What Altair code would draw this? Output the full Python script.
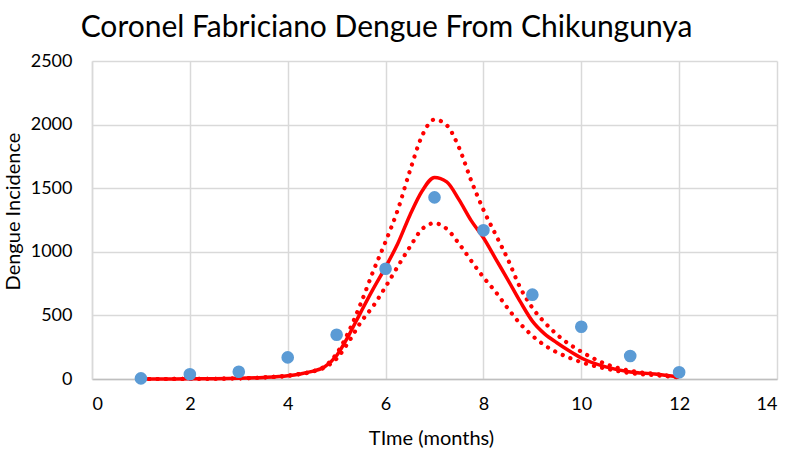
import altair as alt
import pandas as pd

# Observed dengue incidence (blue dots)
obs_month = [1, 2, 3, 4, 5, 6, 7, 8, 9, 10, 11, 12]
obs_cases = [5, 37, 57, 170, 348, 867, 1428, 1169, 663, 411, 181, 53]

# Model curves
t = [1, 1.5, 2, 2.5, 3, 3.5, 4, 4.25, 4.5, 4.75, 5, 5.25, 5.5, 5.75, 6, 6.25, 6.5,
     6.75, 7, 7.25, 7.5, 7.75, 8, 8.25, 8.5, 8.75, 9, 9.25, 9.5, 9.75, 10, 10.5, 11,
     11.5, 12]
model = [0, 0, 1, 2, 5, 12, 26, 40, 60, 95, 185, 345, 530, 710, 880, 1065, 1290,
         1480, 1585, 1550, 1410, 1245, 1110, 945, 780, 610, 455, 355, 285, 222, 165,
         95, 55, 40, 15]
upper = [0, 0, 1, 2, 5, 12, 26, 40, 60, 98, 200, 375, 600, 850, 1080, 1330, 1640,
         1915, 2040, 1995, 1820, 1560, 1330, 1135, 940, 720, 560, 445, 350, 275, 215,
         118, 65, 40, 15]
lower = [0, 0, 1, 2, 5, 12, 25, 38, 57, 90, 160, 295, 450, 575, 725, 885, 1040,
         1180, 1225, 1180, 1065, 930, 800, 685, 555, 435, 340, 265, 210, 168, 132,
         82, 46, 30, 12]

x_ticks = [0, 2, 4, 6, 8, 10, 12, 14]
y_ticks = [0, 500, 1000, 1500, 2000, 2500]

obs = pd.DataFrame({"t": obs_month, "v": obs_cases})
curves = pd.DataFrame({"t": t, "model": model, "upper": upper, "lower": lower})

FONT = "Lato"
RED = "#FF0000"

xenc = alt.X("t:Q",
             scale=alt.Scale(domain=[0, 14], nice=False, zero=False),
             axis=alt.Axis(values=x_ticks, title="TIme (months)", format="d",
                           titleX=339, titleY=59, titleBaseline="middle",
                           titleAlign="center", labelPadding=16))
base = alt.Chart(curves)

def yenc(field):
    return alt.Y(f"{field}:Q",
                 scale=alt.Scale(domain=[0, 2500], nice=False),
                 axis=alt.Axis(values=y_ticks, title="Dengue Incidence", format="d",
                               titleX=-79, titleY=150, titleBaseline="middle",
                               titleAlign="center", titleAngle=-90,
                               labelPadding=20))

solid = base.mark_line(color=RED, strokeWidth=3.5, interpolate="monotone").encode(
    x=xenc, y=yenc("model"))
up = base.mark_line(color=RED, strokeWidth=4.2, interpolate="monotone",
                    strokeDash=[0.1, 8.2], strokeCap="round").encode(
    x=xenc, y=yenc("upper"))
lo = base.mark_line(color=RED, strokeWidth=4.2, interpolate="monotone",
                    strokeDash=[0.1, 8.2], strokeCap="round").encode(
    x=xenc, y=yenc("lower"))
dots = alt.Chart(obs).mark_circle(color="#5B9BD5", size=160, opacity=1).encode(
    x=xenc, y=yenc("v"))

chart = alt.layer(solid, up, lo, dots).properties(
    width=685, height=318,
    title=alt.TitleParams("Coronel Fabriciano Dengue From Chikungunya",
                          anchor="middle", dx=-48, fontSize=30, font=FONT,
                          fontWeight="normal", color="#000000", offset=9),
    autosize=alt.AutoSizeParams(type="none"),
    padding={"left": 92, "top": 61, "right": 11, "bottom": 73},
).configure_view(stroke=None).configure_axis(
    labelFont=FONT, titleFont=FONT, labelFontSize=18, titleFontSize=20,
    titleFontWeight="normal", labelColor="#000000", titleColor="#000000",
    gridColor="#D9D9D9", gridWidth=1.5, domainColor="#D9D9D9", domainWidth=1.5,
    tickSize=0, ticks=False,
).configure_axisX(domainColor="#BFBFBF")

chart.save("out.html", embed_options={"renderer": "svg", "actions": False})
